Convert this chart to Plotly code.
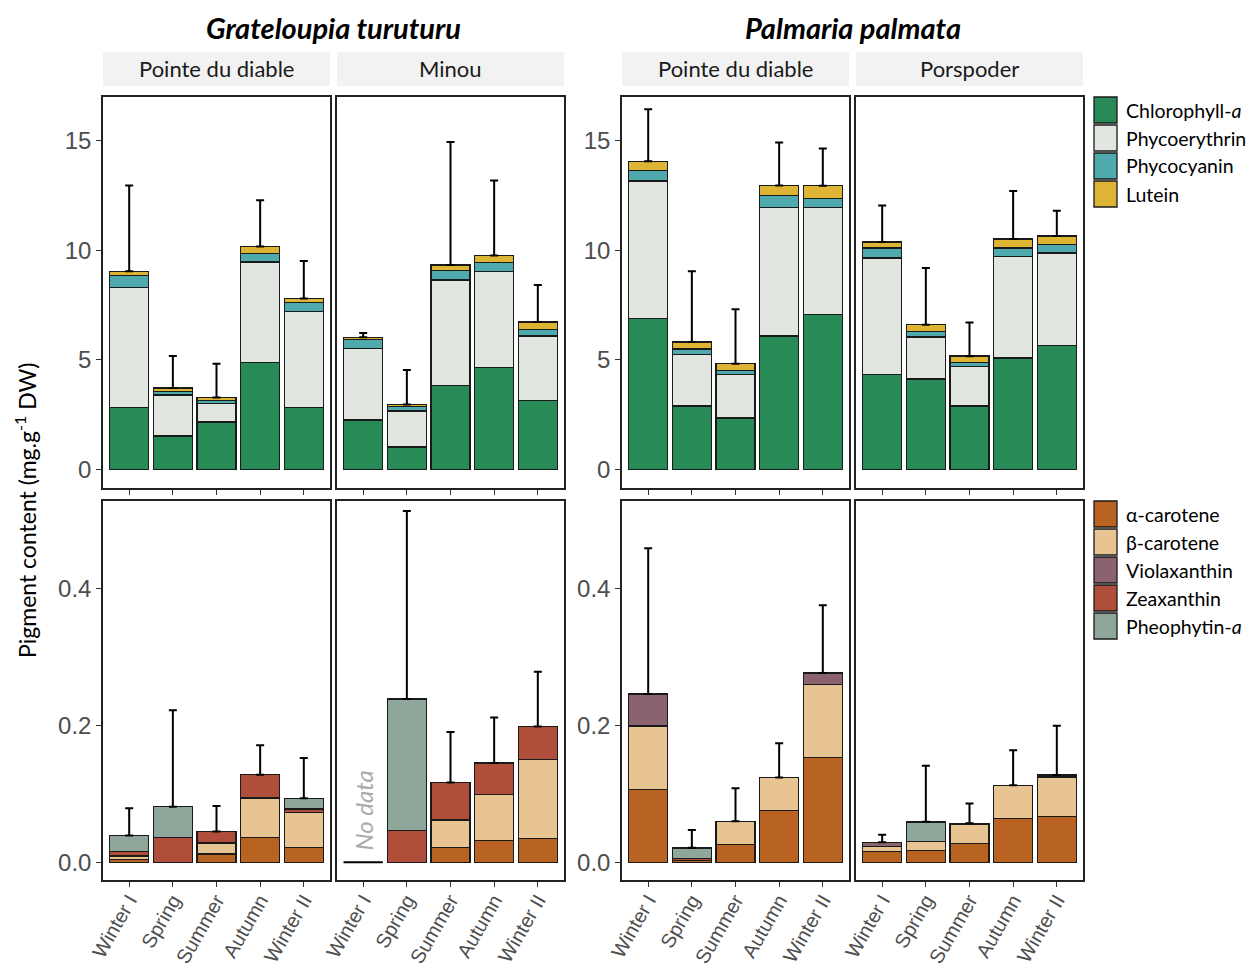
import plotly.graph_objects as go
from plotly.subplots import make_subplots

# categories
seasons = ["Winter I", "Spring", "Summer", "Autumn", "Winter II"]
species = ["Grateloupia turuturu", "Palmaria palmata"]
sites = ["Pointe du diable", "Minou", "Pointe du diable", "Porspoder"]

# major pigments (mg/g DW), one list per panel: GT-PdD, GT-Minou, PP-PdD, PP-Porspoder
chla = [[2.84, 1.52, 2.16, 4.89, 2.84],
        [2.25, 1.02, 3.83, 4.64, 3.15],
        [6.88, 2.90, 2.34, 6.09, 7.08],
        [4.33, 4.12, 2.89, 5.08, 5.64]]
phycoerythrin = [[5.47, 1.87, 0.85, 4.58, 4.38],
                 [3.28, 1.64, 4.82, 4.40, 2.94],
                 [6.28, 2.36, 1.98, 5.87, 4.88],
                 [5.32, 1.93, 1.81, 4.65, 4.24]]
phycocyanin = [[0.55, 0.17, 0.12, 0.39, 0.39],
               [0.40, 0.21, 0.42, 0.40, 0.31],
               [0.47, 0.23, 0.19, 0.53, 0.41],
               [0.46, 0.24, 0.19, 0.38, 0.39]]
lutein = [[0.18, 0.16, 0.15, 0.31, 0.19],
          [0.10, 0.09, 0.26, 0.32, 0.33],
          [0.44, 0.33, 0.31, 0.47, 0.58],
          [0.27, 0.31, 0.28, 0.41, 0.38]]
sd_major = [[3.92, 1.46, 1.54, 2.12, 1.71],
            [0.20, 1.58, 5.61, 3.43, 1.69],
            [2.37, 3.22, 2.49, 1.96, 1.70],
            [1.67, 2.59, 1.53, 2.19, 1.16]]

# minor pigments
a_carotene = [[0.004, 0.0, 0.012, 0.036, 0.0215],
              [None, 0.0, 0.0215, 0.032, 0.035],
              [0.1066, 0.002, 0.026, 0.076, 0.1535],
              [0.016, 0.017, 0.027, 0.064, 0.0665]]
b_carotene = [[0.005, 0.0, 0.016, 0.058, 0.051],
              [None, 0.0, 0.040, 0.0665, 0.115],
              [0.0924, 0.0, 0.034, 0.048, 0.106],
              [0.007, 0.013, 0.029, 0.0485, 0.058]]
violaxanthin = [[0.001, 0.0, 0.0, 0.0, 0.0],
                [None, 0.0, 0.0, 0.0, 0.0],
                [0.047, 0.0, 0.0, 0.0, 0.017],
                [0.006, 0.0, 0.001, 0.0, 0.003]]
zeaxanthin = [[0.006, 0.036, 0.017, 0.034, 0.0054],
              [None, 0.0465, 0.055, 0.0464, 0.0485],
              [0.0, 0.003, 0.0, 0.0, 0.0],
              [0.0, 0.0, 0.0, 0.0, 0.0]]
pheophytin = [[0.023, 0.045, 0.0, 0.0, 0.0156],
              [None, 0.192, 0.0, 0.0, 0.0],
              [0.0, 0.016, 0.0, 0.0, 0.0],
              [0.0, 0.029, 0.0, 0.0, 0.0]]
sd_minor = [[0.040, 0.141, 0.037, 0.043, 0.059],
            [None, 0.275, 0.074, 0.0665, 0.080],
            [0.213, 0.026, 0.048, 0.050, 0.099],
            [0.011, 0.082, 0.029, 0.051, 0.072]]

major_names = ["Chlorophyll-<i>a</i>", "Phycoerythrin", "Phycocyanin", "Lutein"]
major_colors = ["#288A57", "#E2E6E1", "#4FAAAD", "#DDB433"]
minor_names = ["α-carotene", "β-carotene", "Violaxanthin", "Zeaxanthin", "Pheophytin-<i>a</i>"]
minor_colors = ["#B96322", "#E8C492", "#8B636E", "#B04E3C", "#8FA79B"]

W, H = 1259, 969
OFF = 8  # page body margin in the browser
col_px = [(103, 330), (337, 564), (622, 849), (856, 1083)]
row_px = [(97, 488), (501, 880)]
TXT = "Lato, Open Sans, sans-serif"
TICK = "Liberation Sans, Arial, sans-serif"


def px(x):
    return (x - OFF) / W


def py(y):
    return 1 - (y - OFF) / H


fig = make_subplots(rows=2, cols=4)


def add_stack(row, col, layers, names, colors, sd):
    for vals, name, color in zip(layers, names, colors):
        fig.add_trace(go.Bar(
            x=seasons, y=vals, name=name, showlegend=False,
            marker=dict(color=color, line=dict(color="#1a1a1a", width=1.3)),
        ), row=row, col=col)
    totals = []
    for i in range(len(seasons)):
        col_vals = [v[i] for v in layers]
        totals.append(None if None in col_vals else sum(col_vals))
    fig.add_trace(go.Scatter(
        x=seasons, y=totals, mode="markers", showlegend=False,
        marker=dict(opacity=0, size=1),
        error_y=dict(type="data", symmetric=False, array=sd,
                     arrayminus=[0] * len(sd), color="black", thickness=2, width=4),
    ), row=row, col=col)


for c in range(4):
    add_stack(1, c + 1, [chla[c], phycoerythrin[c], phycocyanin[c], lutein[c]],
              major_names, major_colors, sd_major[c])
    add_stack(2, c + 1, [a_carotene[c], b_carotene[c], violaxanthin[c], zeaxanthin[c], pheophytin[c]],
              minor_names, minor_colors, sd_minor[c])

axis_line = dict(showline=True, mirror=True, linecolor="#222222", linewidth=1.5,
                 ticklen=5, tickcolor="#333333", tickwidth=1,
                 showgrid=False, zeroline=False, automargin=False)

for r in range(2):
    for c in range(4):
        x0, x1 = col_px[c]
        y0, y1 = row_px[r]
        fig.update_xaxes(
            domain=[px(x0), px(x1)], type="category", categoryorder="array",
            categoryarray=seasons, range=[-0.6, 4.6], ticks="outside",
            showticklabels=(r == 1), tickangle=-60, ticklabelstandoff=-6,
            tickfont=dict(family=TICK, size=20, color="#4D4D4D"),
            **axis_line, row=r + 1, col=c + 1)
        fig.update_yaxes(
            domain=[py(y1), py(y0)],
            range=[-0.85, 17.0] if r == 0 else [-0.026, 0.528],
            tickvals=[0, 5, 10, 15] if r == 0 else [0, 0.2, 0.4],
            tickformat="d" if r == 0 else ".1f",
            showticklabels=(c in (0, 2)), ticks="outside" if c in (0, 2) else "",
            tickfont=dict(family=TICK, size=24, color="#4D4D4D"),
            **axis_line, row=r + 1, col=c + 1)

shapes = []
annotations = []

# strips
for c in range(4):
    x0, x1 = col_px[c]
    shapes.append(dict(type="rect", xref="paper", yref="paper",
                       x0=px(x0), x1=px(x1), y0=py(86), y1=py(52),
                       fillcolor="#F2F2F2", line=dict(width=0), layer="below"))
    annotations.append(dict(text=sites[c], xref="paper", yref="paper",
                            x=px((x0 + x1) / 2), y=py(69), showarrow=False,
                            xanchor="center", yanchor="middle",
                            font=dict(family=TXT, size=22, color="#1A1A1A")))

# species titles
for s, (ca, cb) in zip(species, [(0, 1), (2, 3)]):
    annotations.append(dict(text=f"<b><i>{s}</i></b>", xref="paper", yref="paper",
                            x=px((col_px[ca][0] + col_px[cb][1]) / 2), y=py(27),
                            xanchor="center", yanchor="middle",
                            showarrow=False, font=dict(family=TXT, size=29, color="black")))

# y title
annotations.append(dict(text="Pigment content (mg.g<sup>-1</sup> DW)", xref="paper", yref="paper",
                        x=px(26), y=py(511), textangle=-90, showarrow=False,
                        xanchor="center", yanchor="middle",
                        font=dict(family=TXT, size=23, color="black")))

# no data marker (Minou, Winter I, minor pigments)
shapes.append(dict(type="line", xref="x6", yref="y6", x0="Winter I", x1="Winter I",
                   x0shift=-0.45, x1shift=0.45, y0=0, y1=0,
                   line=dict(color="black", width=2)))
annotations.append(dict(text="<i>No data</i>", xref="x6", yref="y6", x="Winter I", y=0,
                        xanchor="center", yanchor="bottom", yshift=10, textangle=-90,
                        showarrow=False,
                        font=dict(family=TXT, size=24, color="#AAAAAA")))


# legends
def legend(names, colors, top):
    for k, (n, col) in enumerate(zip(names, colors)):
        cy = top + k * 28
        shapes.append(dict(type="rect", xref="paper", yref="paper",
                           x0=px(1094), x1=px(1117), y0=py(cy + 13), y1=py(cy - 13),
                           fillcolor=col, line=dict(color="#1a1a1a", width=1.3)))
        annotations.append(dict(text=n, xref="paper", yref="paper", x=px(1124), y=py(cy),
                                xanchor="left", yanchor="middle", showarrow=False,
                                font=dict(family=TXT, size=19.5, color="black")))


legend(major_names, major_colors, 110)
legend(minor_names, minor_colors, 514)

fig.update_layout(
    width=W, height=H, margin=dict(l=0, r=0, t=0, b=0, autoexpand=False),
    barmode="stack", bargap=0.1, showlegend=False,
    paper_bgcolor="white", plot_bgcolor="white",
    shapes=shapes, annotations=annotations,
)

fig.write_html("out.html")
